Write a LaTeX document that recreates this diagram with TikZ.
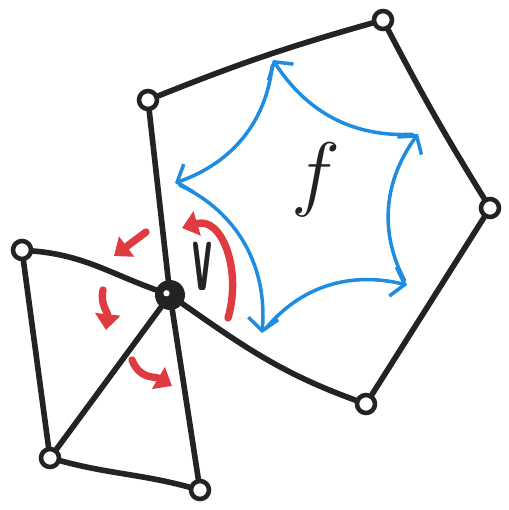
\documentclass[tikz,border=0pt]{standalone}
\usepackage{xcolor}
\usetikzlibrary{arrows.meta, positioning}

\definecolor{ink}{RGB}{35,35,38}
\definecolor{faceblue}{RGB}{30,140,225}
\definecolor{spinred}{RGB}{222,60,64}

\begin{document}
\begin{tikzpicture}[
    x=0.02cm, y=0.02cm,                                                              % 1 unit = 1 pixel
    vtx/.style={circle, draw=ink, fill=white, line width=2.6pt, minimum size=0.36cm, inner sep=0pt}, % Open vertices
    hub/.style={circle, fill=ink, minimum size=0.6cm, inner sep=0pt,
        path picture={\fill[white] ([xshift=-2pt, yshift=1pt]path picture bounding box.center) circle (1.8pt);}}, % The vertex v
    link/.style={draw=ink, line width=3.2pt, line cap=round},                        % Black edges
    facearrow/.style={draw=faceblue, line width=2pt, line cap=round,
        -{Straight Barb[length=7pt, width=17pt]}, shorten <=3pt},                   % Blue face cycle
    spinarrow/.style={draw=spinred, line width=4.2pt, line cap=round,
        -{Triangle[length=9pt, width=14pt]}}                                        % Red rotation around v
]
\useasboundingbox (0,0) rectangle (508,-510);

% --- VERTICES ---
\node[hub] (v) at (170,-295) {};
\node[vtx] (a) at (148,-100) {};
\node[vtx] (b) at (383,-20) {};
\node[vtx] (c) at (490,-208) {};
\node[vtx] (d) at (366,-404) {};
\node[vtx] (e) at (22,-250) {};
\node[vtx] (g) at (50,-458) {};
\node[vtx] (h) at (200,-490) {};

% --- EDGES ---
\draw[link] (v) -- (a);
\draw[link] (a) to[bend left=3] (b);
\draw[link] (b) to[bend right=2] (c);
\draw[link] (c) -- (d);
\draw[link] (v) to[out=-35, in=160] (d);
\draw[link] (v) to[out=160, in=-5] (e);
\draw[link] (e) -- (g);
\draw[link] (g) -- (v);
\draw[link] (v) -- (h);
\draw[link] (g) to[out=-15, in=165] (h);

% --- LABELS ---
\node[text=ink] (vlabel) at (203,-266) {\scalebox{0.95}[2.5]{\fontsize{24}{24}\selectfont\sffamily\bfseries v}};
\node[text=ink] (flabel) at (316,-180) {\scalebox{1.9}{\fontsize{24}{24}\selectfont$f$}};

% --- FACE CYCLE (blue) ---
\coordinate (sT) at (273,-60);
\coordinate (sL) at (175,-183);
\coordinate (sB) at (262,-333);
\coordinate (sR) at (407,-285);
\coordinate (sQ) at (418,-134);

\draw[facearrow] (sT) to[bend left=32] (sL);  % top to left
\draw[facearrow] (sL) to[bend left=35] (sB);  % left to bottom
\draw[facearrow] (sB) to[bend left=32] (sR);  % bottom to right
\draw[facearrow] (sR) to[bend left=32] (sQ);  % right to upper right
\draw[facearrow] (sQ) to[bend left=30] (sT);  % upper right to top

% --- ROTATION AROUND v (red) ---
\coordinate (r0) at (228,-318);
\coordinate (r1) at (182,-228);
\coordinate (p0) at (146,-232);
\coordinate (p1) at (114,-256);
\coordinate (q0) at (103,-290);
\coordinate (q1) at (106,-330);
\coordinate (u0) at (132,-360);
\coordinate (u1) at (172,-386);

\draw[spinarrow] (r0) .. controls (242,-270) and (222,-216) .. (r1);  % big arc in face f
\draw[spinarrow] (p0) -- (p1);
\draw[spinarrow] (q0) .. controls (100,-305) and (108,-312) .. (q1);
\draw[spinarrow] (u0) .. controls (140,-380) and (155,-376) .. (u1);

\end{tikzpicture}
\end{document}
